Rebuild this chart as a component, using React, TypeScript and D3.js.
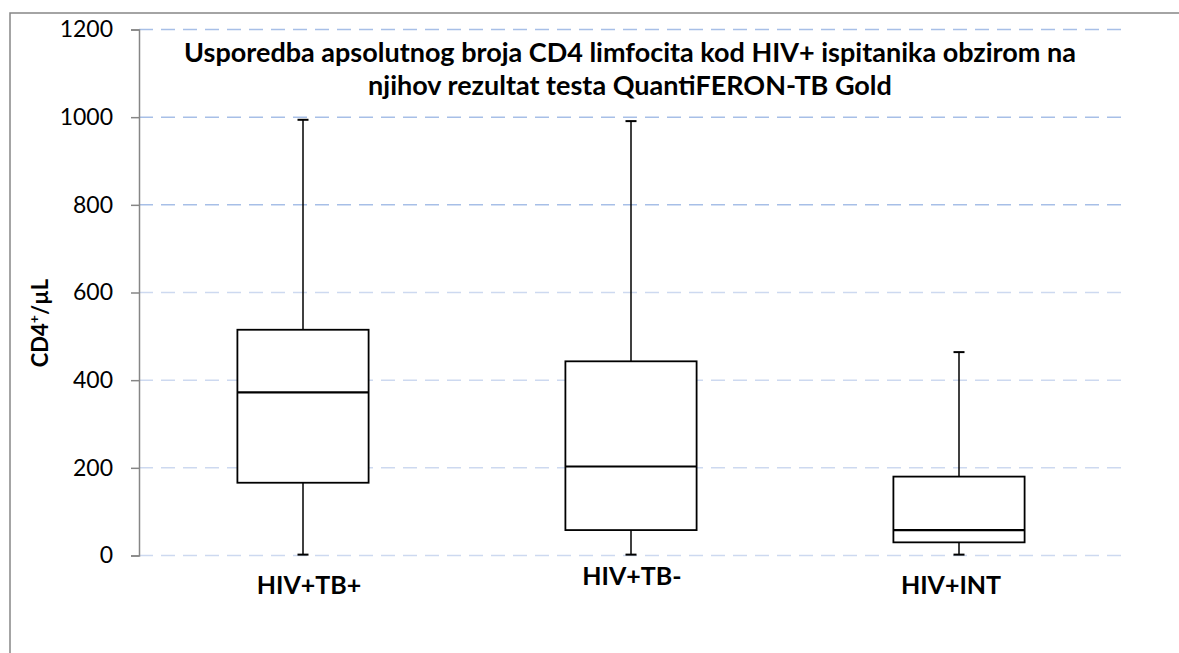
import React, { useEffect, useRef } from "react";
import * as d3 from "d3";

// box plot data (CD4 cells / µL)
const categories = ["HIV+TB+", "HIV+TB-", "HIV+INT"];
const minVals = [2, 2, 2];
const q1Vals = [166, 58, 30];
const medianVals = [372, 203, 58];
const q3Vals = [515, 443, 180];
const maxVals = [994, 991, 464];
const yTicks = [0, 200, 400, 600, 800, 1000, 1200];

const titleLines = [
  "Usporedba apsolutnog broja CD4 limfocita kod HIV+ ispitanika obzirom na",
  "njihov rezultat testa QuantiFERON-TB Gold",
];

const FONT = "Lato, Carlito, Calibri, 'Open Sans', sans-serif";

export default function App() {
  const axisRef = useRef<SVGGElement>(null);

  const w = 1179;
  const h = 653;
  const left = 139;
  const right = 1123;
  const top = 29.5;
  const bottom = 555.5;

  const y = d3.scaleLinear().domain([0, 1200]).range([bottom, top]);
  const x = d3.scaleBand().domain(categories).range([left, right]).padding(0);
  const boxW = x.bandwidth() * 0.4;
  const capW = 11;

  useEffect(() => {
    const g = d3.select(axisRef.current);
    g.selectAll("*").remove();
    g.call(d3.axisLeft(y).tickValues(yTicks).tickSize(8).tickPadding(18).tickFormat(d3.format("d")));
    g.select(".domain").attr("stroke", "#868686").attr("stroke-width", 1.5);
    g.selectAll(".tick line").attr("stroke", "#868686").attr("stroke-width", 1.5);
    g.selectAll(".tick text")
      .attr("fill", "#000")
      .style("font-family", FONT)
      .style("font-size", "23px");
  }, []);

  // the category labels sit slightly off-centre in the source
  const labelDx = [6, 1, -8];
  const labelY = [594, 585, 594];

  return (
    <div style={{ position: "absolute", left: 0, top: 0 }}>
      <svg width={w} height={h} style={{ display: "block", background: "#fff" }}>
        <rect x={10} y={13} width={1200} height={700} fill="#fff" stroke="#868686" strokeWidth={1.5} />

        {/* gridlines */}
        {yTicks.map((t) => (
          <line
            key={t}
            x1={left}
            x2={right}
            y1={y(t)}
            y2={y(t)}
            stroke={t >= 800 ? "#a7bfe7" : "#cdd9f0"}
            strokeWidth={1.5}
            strokeDasharray="14 8"
          />
        ))}

        <g ref={axisRef} transform={`translate(${left},0)`} />

        {/* boxes */}
        {categories.map((c, i) => {
          const cx = (x(c) as number) + x.bandwidth() / 2;
          return (
            <g key={c} stroke="#000" fill="none">
              <line x1={cx} x2={cx} y1={y(maxVals[i])} y2={y(q3Vals[i])} strokeWidth={1.5} />
              <line x1={cx} x2={cx} y1={y(q1Vals[i])} y2={y(minVals[i])} strokeWidth={1.5} />
              <line x1={cx - capW / 2} x2={cx + capW / 2} y1={y(maxVals[i])} y2={y(maxVals[i])} strokeWidth={2} />
              <line x1={cx - capW / 2} x2={cx + capW / 2} y1={y(minVals[i])} y2={y(minVals[i])} strokeWidth={2} />
              <rect
                x={cx - boxW / 2}
                y={y(q3Vals[i])}
                width={boxW}
                height={y(q1Vals[i]) - y(q3Vals[i])}
                fill="#fff"
                strokeWidth={1.8}
              />
              <line x1={cx - boxW / 2} x2={cx + boxW / 2} y1={y(medianVals[i])} y2={y(medianVals[i])} strokeWidth={2.2} />
            </g>
          );
        })}

        {/* category labels */}
        {categories.map((c, i) => (
          <text
            key={c}
            x={(x(c) as number) + x.bandwidth() / 2 + labelDx[i]}
            y={labelY[i]}
            textAnchor="middle"
            fontFamily={FONT}
            fontWeight="bold"
            fontSize={25}
            fill="#000"
          >
            {c}
          </text>
        ))}

        {/* title */}
        {titleLines.map((line, i) => (
          <text
            key={i}
            x={630}
            y={62 + i * 33}
            textAnchor="middle"
            fontFamily={FONT}
            fontWeight="bold"
            fontSize={27}
            fill="#000"
          >
            {line}
          </text>
        ))}

        {/* y axis title */}
        <text
          transform="translate(48,323) rotate(-90)"
          textAnchor="middle"
          fontFamily={FONT}
          fontWeight="bold"
          fontSize={22}
          fill="#000"
        >
          CD4
          <tspan fontSize={14} dy={-9}>+</tspan>
          <tspan dy={9}>/µL</tspan>
        </text>
      </svg>
    </div>
  );
}
